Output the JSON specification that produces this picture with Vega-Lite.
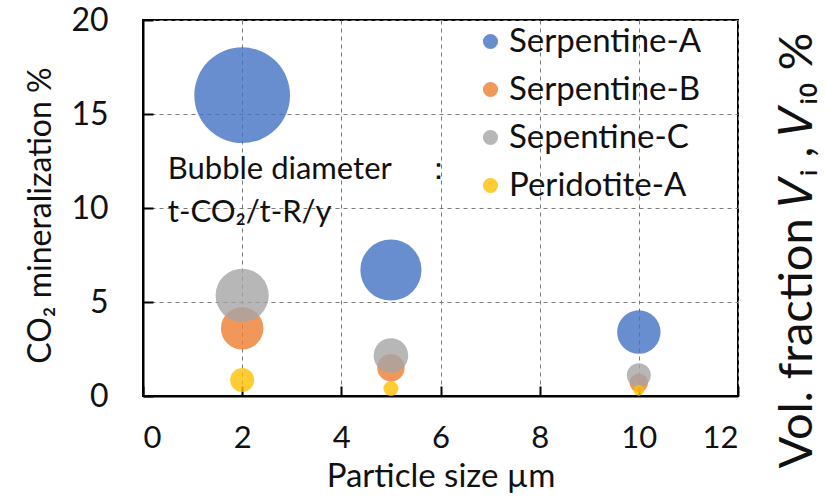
{
  "$schema": "https://vega.github.io/schema/vega-lite/v6.json",
  "width": 595,
  "height": 376,
  "autosize": "none",
  "padding": {"left": 143, "top": 20, "right": 87, "bottom": 103},
  "background": "white",
  "config": {
    "font": "Lato",
    "view": {"stroke": "black", "strokeWidth": 2},
    "axis": {
      "labelFont": "Lato",
      "titleFont": "Lato",
      "labelColor": "#111",
      "titleColor": "#111",
      "titleFontWeight": "normal",
      "domainColor": "black",
      "domainWidth": 2,
      "tickColor": "black",
      "tickWidth": 2,
      "gridColor": "#7a7a7a",
      "gridDash": [4, 4],
      "gridWidth": 1
    }
  },
  "datasets": {
    "bubbles": [
      {"sample": "Serpentine-A", "size_um": 2, "mineralization": 16.0, "rate": 1.08},
      {"sample": "Serpentine-A", "size_um": 5, "mineralization": 6.7, "rate": 0.69},
      {"sample": "Serpentine-A", "size_um": 10, "mineralization": 3.4, "rate": 0.49},
      {"sample": "Serpentine-B", "size_um": 2, "mineralization": 3.6, "rate": 0.48},
      {"sample": "Serpentine-B", "size_um": 5, "mineralization": 1.5, "rate": 0.31},
      {"sample": "Serpentine-B", "size_um": 10, "mineralization": 0.7, "rate": 0.21},
      {"sample": "Sepentine-C", "size_um": 2, "mineralization": 5.35, "rate": 0.6},
      {"sample": "Sepentine-C", "size_um": 5, "mineralization": 2.15, "rate": 0.39},
      {"sample": "Sepentine-C", "size_um": 10, "mineralization": 1.1, "rate": 0.27},
      {"sample": "Peridotite-A", "size_um": 2, "mineralization": 0.85, "rate": 0.27},
      {"sample": "Peridotite-A", "size_um": 5, "mineralization": 0.4, "rate": 0.17},
      {"sample": "Peridotite-A", "size_um": 10, "mineralization": 0.3, "rate": 0.12}
    ],
    "note": [
      {"kind": "bubble size key"}
    ]
  },
  "layer": [
    {
      "data": {"name": "bubbles"},
      "mark": {"type": "circle", "opacity": 0.8},
      "encoding": {
        "x": {
          "field": "size_um",
          "type": "quantitative",
          "scale": {"domain": [0, 12], "nice": false},
          "axis": {
            "values": [0, 2, 4, 6, 8, 10, 12],
            "title": "Particle size µm",
            "labelFontSize": 31,
            "titleFontSize": 33,
            "tickSize": -10,
            "labelPadding": 37,
            "titleBaseline": "alphabetic",
            "titleY": 90,
            "grid": true
          }
        },
        "y": {
          "field": "mineralization",
          "type": "quantitative",
          "scale": {"domain": [0, 20], "nice": false},
          "axis": {
            "orient": "left",
            "values": [0, 5, 10, 15, 20],
            "title": "CO₂ mineralization %",
            "labelFontSize": 32,
            "titleFontSize": 32,
            "tickSize": -10,
            "labelPadding": 45,
            "titleAngle": 270,
            "titleBaseline": "middle",
            "titleAlign": "center",
            "titleX": -103,
            "titleY": 195,
            "grid": true
          }
        },
        "color": {
          "field": "sample",
          "type": "nominal",
          "sort": ["Serpentine-A", "Serpentine-B", "Sepentine-C", "Peridotite-A"],
          "scale": {
            "domain": ["Serpentine-A", "Serpentine-B", "Sepentine-C", "Peridotite-A"],
            "range": ["#4472C4", "#ED7D31", "#A5A5A5", "#FFC000"]
          },
          "legend": {
            "title": null,
            "orient": "none",
            "legendX": 331,
            "legendY": 5,
            "labelFont": "Lato",
            "labelFontSize": 33,
            "labelColor": "#111",
            "labelOffset": 2,
            "labelLimit": 400,
            "symbolType": "circle",
            "symbolSize": 230,
            "symbolOpacity": 0.8,
            "symbolStrokeWidth": 0,
            "rowPadding": 14
          }
        },
        "size": {
          "field": "rate",
          "type": "quantitative",
          "scale": {"type": "pow", "exponent": 2, "domain": [0, 1.08], "range": [0, 9161], "zero": true},
          "legend": null
        }
      }
    },
    {
      "data": {"name": "note"},
      "mark": {"type": "text", "align": "left", "baseline": "middle", "fontSize": 31, "font": "Lato", "color": "#111", "lineHeight": 43},
      "encoding": {
        "x": {"datum": 0.5, "type": "quantitative"},
        "y": {"datum": 12.0, "type": "quantitative", "scale": {"domain": [0, 20], "nice": false}, "axis": null},
        "text": {"value": ["Bubble diameter\u00a0\u00a0\u00a0\u00a0：", "t-CO₂/t-R/y"]}
      }
    },
    {
      "data": {"name": "bubbles"},
      "mark": {"type": "point", "opacity": 0},
      "encoding": {
        "y": {
          "field": "mineralization",
          "type": "quantitative",
          "scale": {"domain": [0, 20], "nice": false},
          "axis": {
            "orient": "right",
            "title": "Vol. fraction 𝑉ᵢ , 𝑉ᵢ₀ %",
            "titleFontSize": 47,
            "titleAngle": 270,
            "titleBaseline": "middle",
            "titleAlign": "center",
            "titleX": 59,
            "titleY": 230,
            "labels": false,
            "ticks": false,
            "domain": false,
            "grid": false
          }
        }
      }
    }
  ],
  "resolve": {"scale": {"y": "independent"}}
}
